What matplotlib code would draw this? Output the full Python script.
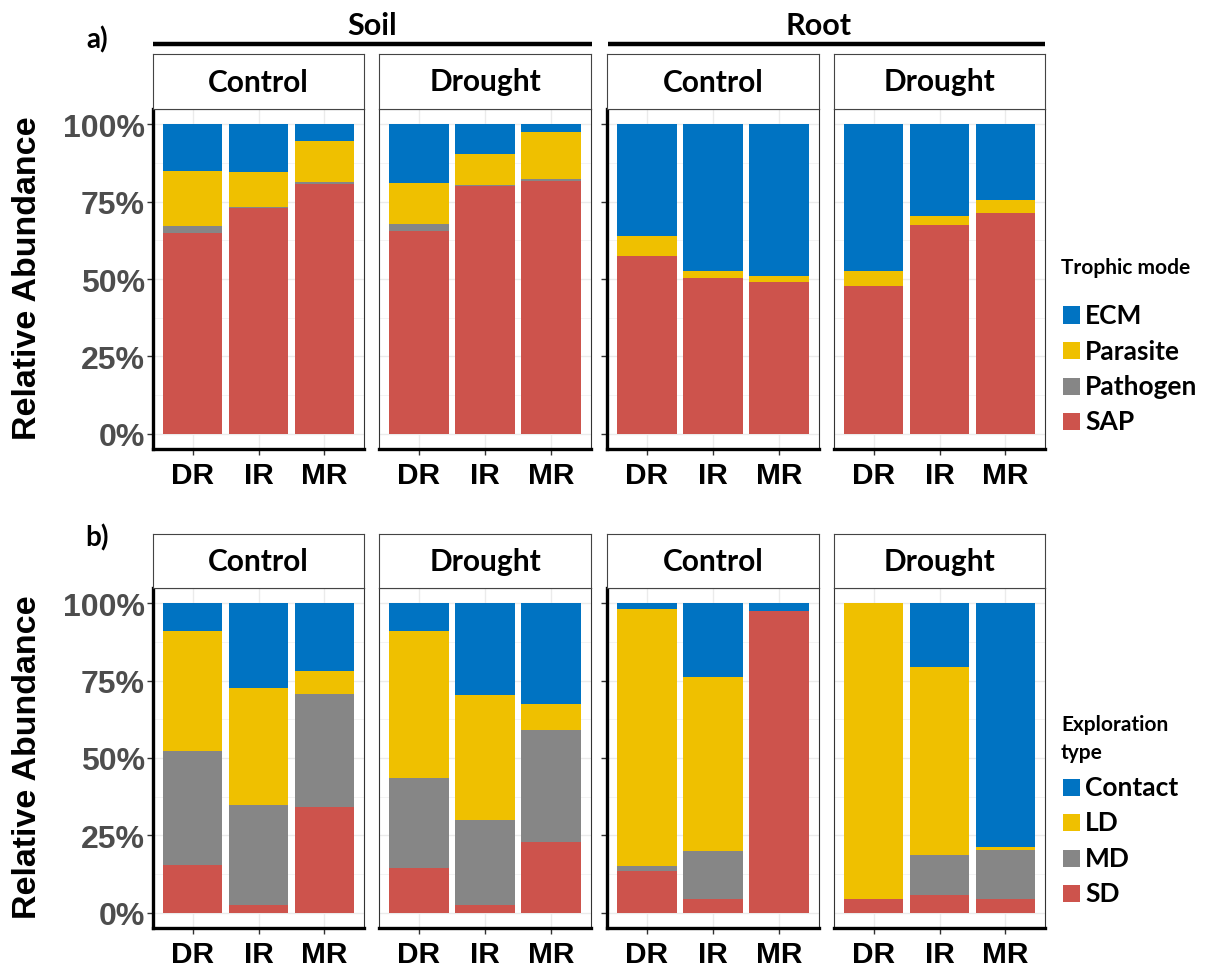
import matplotlib
matplotlib.use("Agg")
import matplotlib.pyplot as plt
from matplotlib.patches import Rectangle
from matplotlib.lines import Line2D
from matplotlib.ticker import FixedLocator, MultipleLocator

# ---------------------------------------------------------------- data
sites = ["DR", "IR", "MR"]
compartments = ["Soil", "Root"]
treatments = ["Control", "Drought"]
y_ticks = [0, 0.25, 0.5, 0.75, 1.0]
y_tick_labels = ["0%", "25%", "50%", "75%", "100%"]

# panels in order: Soil-Control, Soil-Drought, Root-Control, Root-Drought
# a) trophic mode (relative abundance, %)
sap      = [[64.8, 73.1, 80.6], [65.6, 80.1, 81.6], [57.6, 50.3, 49.1], [47.6, 67.4, 71.4]]
pathogen = [[2.2, 0.3, 0.9],    [2.1, 0.3, 0.7],    [0.0, 0.0, 0.0],    [0.0, 0.0, 0.0]]
parasite = [[18.1, 11.2, 13.1], [13.3, 9.9, 15.4],  [6.4, 2.4, 2.0],    [5.0, 3.1, 4.2]]
ecm      = [[14.9, 15.4, 5.4],  [19.0, 9.7, 2.3],   [36.0, 47.3, 48.9], [47.4, 29.5, 24.4]]

# b) exploration type (relative abundance, %)
sd      = [[15.5, 2.5, 34.3], [14.4, 2.3, 22.8], [13.3, 4.4, 97.5], [4.4, 5.7, 4.4]]
md      = [[36.7, 32.4, 36.3], [29.2, 27.5, 36.2], [1.6, 15.4, 0.0], [0.0, 12.8, 15.7]]
ld      = [[39.0, 37.7, 7.7], [47.4, 40.5, 8.5], [83.3, 56.4, 0.0], [95.6, 61.0, 1.0]]
contact = [[8.8, 27.4, 21.7], [9.0, 29.7, 32.5], [1.8, 23.8, 2.5], [0.0, 20.5, 78.9]]

BLUE, YELLOW, GREY, RED = "#0073C2", "#EFC000", "#868686", "#CD534C"

# stacking order: bottom to top
row_a = [("SAP", sap, RED), ("Pathogen", pathogen, GREY),
         ("Parasite", parasite, YELLOW), ("ECM", ecm, BLUE)]
row_b = [("SD", sd, RED), ("MD", md, GREY),
         ("LD", ld, YELLOW), ("Contact", contact, BLUE)]

# ---------------------------------------------------------------- layout
W, H = 1220, 970
fig = plt.figure(figsize=(W / 100, H / 100), dpi=100)

SANS = "Liberation Sans"
CAL = "Lato"


def rect(l, t, r, b):
    return [l / W, 1 - b / H, (r - l) / W, (b - t) / H]


panel_x = [(153, 364), (379, 591), (607, 819), (834, 1045)]
rows = [
    dict(series=row_a, strip_top=55, top=110, bottom=450, tag="a)", tag_y=40,
         legend_title=["Trophic mode"], legend_y=268),
    dict(series=row_b, strip_top=535, top=589, bottom=929, tag="b)", tag_y=538,
         legend_title=["Exploration", "type"], legend_y=725),
]

for row in rows:
    for p, (l, r) in enumerate(panel_x):
        ax = fig.add_axes(rect(l, row["top"], r, row["bottom"]))
        x = list(range(1, len(sites) + 1))
        bottom = [0.0] * len(sites)
        for name, values, col in row["series"]:
            vals = [v / 100 for v in values[p]]
            ax.bar(x, vals, bottom=bottom, width=0.9, color=col, linewidth=0,
                   zorder=2)
            bottom = [b + v for b, v in zip(bottom, vals)]

        ax.set_xlim(0.4, 3.6)
        ax.set_ylim(-0.05, 1.05)
        ax.set_xticks(x)
        ax.set_xticklabels(sites, fontfamily=SANS, fontweight="bold",
                           fontsize=21.5, color="black")
        ax.yaxis.set_major_locator(FixedLocator(y_ticks))
        ax.yaxis.set_minor_locator(MultipleLocator(0.125))
        ax.set_axisbelow(True)
        ax.grid(which="major", color="#EBEBEB", lw=1.0, zorder=0)
        ax.grid(which="minor", axis="y", color="#F3F3F3", lw=0.7, zorder=0)
        ax.tick_params(which="minor", length=0)
        ax.tick_params(axis="x", direction="out", length=4, width=1.0,
                       color="#333333", pad=5)

        has_yaxis = p in (0, 2)
        if has_yaxis:
            ax.tick_params(axis="y", direction="out", length=4, width=1.0,
                           color="#333333", pad=2)
        else:
            ax.tick_params(axis="y", length=0)
        if p == 0:
            ax.set_yticklabels(y_tick_labels, fontfamily=SANS,
                               fontweight="bold", fontsize=23, color="#4D4D4D")
        else:
            ax.set_yticklabels([])

        for s in ax.spines.values():
            s.set_color("#333333")
            s.set_linewidth(0.8)
            s.set_zorder(5)
        ax.spines["bottom"].set_color("black")
        ax.spines["bottom"].set_linewidth(2.4)
        if has_yaxis:
            ax.spines["left"].set_color("black")
            ax.spines["left"].set_linewidth(2.4)

        # facet strip
        sax = fig.add_axes(rect(l, row["strip_top"], r, row["top"]))
        sax.set_xticks([])
        sax.set_yticks([])
        for s in sax.spines.values():
            s.set_color("#444444")
            s.set_linewidth(0.8)
        sax.text(0.5, 0.5, treatments[p % 2], ha="center", va="center",
                 fontfamily=CAL, fontweight="bold", fontsize=21.5,
                 transform=sax.transAxes)

    # y axis title and row tag
    yc = (row["top"] + row["bottom"]) / 2 - 2
    fig.text(28 / W, 1 - yc / H, "Relative Abundance", rotation=90,
             ha="center", va="center", fontfamily=SANS, fontweight="bold",
             fontsize=24.5)
    fig.text(97 / W, 1 - row["tag_y"] / H, row["tag"], ha="center",
             va="center", fontfamily=CAL, fontweight="bold", fontsize=20)

    # legend
    ty = row["legend_y"]
    for line in row["legend_title"]:
        fig.text(1061 / W, 1 - ty / H, line, ha="left", va="center",
                 fontfamily=CAL, fontweight="bold", fontsize=15)
        ty += 28
    ey = ty + 20 if len(row["legend_title"]) == 1 else ty + 7
    for name, _, col in reversed(row["series"]):
        fig.add_artist(Rectangle((1063 / W, 1 - (ey + 8.5) / H), 17 / W,
                                 17 / H, transform=fig.transFigure,
                                 facecolor=col, edgecolor="none"))
        fig.text(1085 / W, 1 - ey / H, name, ha="left", va="center",
                 fontfamily=CAL, fontweight="bold", fontsize=19)
        ey += 35.5

# compartment headers above the top row
for label, (l, r), cx in [("Soil", (153, 592), 372), ("Root", (608, 1045), 818)]:
    fig.add_artist(Line2D([l / W, r / W], [1 - 45 / H, 1 - 45 / H],
                          color="black", lw=3.2, transform=fig.transFigure,
                          solid_capstyle="butt"))
    fig.text(cx / W, 1 - 26 / H, label, ha="center", va="center",
             fontfamily=CAL, fontweight="bold", fontsize=22)

fig.savefig("out.png", dpi=100, facecolor="white")
